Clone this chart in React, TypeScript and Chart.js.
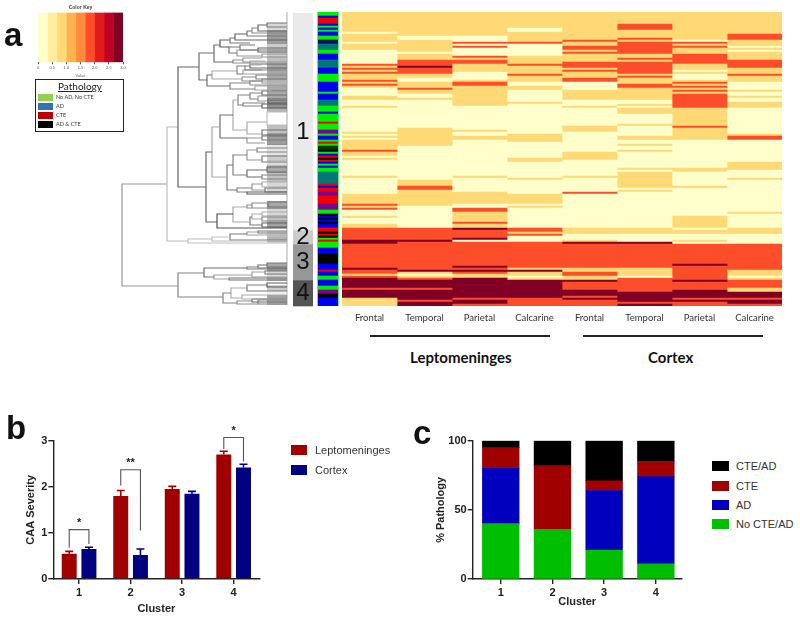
import React, { useEffect, useRef } from "react";
import { Chart, registerables } from "chart.js";

Chart.register(...registerables);

/* ---------- data: heatmap, each column as [first row, severity level] ---------- */
const ROW_COUNT = 147;
const tissues = ["Frontal", "Temporal", "Parietal", "Calcarine", "Frontal", "Temporal", "Parietal", "Calcarine"];
const lepFrontal = [[0,1],[10,0],[11,1],[15,0],[16,1],[19,0],[26,2],[27,1],[28,2],[29,1],[30,2],[31,1],[34,2],[35,1],[36,2],[37,1],[38,0],[42,1],[44,0],[47,1],[48,0],[60,1],[61,0],[62,1],[63,0],[64,1],[69,2],[70,1],[72,0],[73,1],[74,0],[82,1],[83,0],[91,1],[96,2],[97,1],[98,2],[99,0],[102,1],[103,0],[106,1],[108,2],[114,3],[116,2],[128,3],[129,2],[131,1],[132,2],[133,3],[138,2],[139,3],[143,1]];
const lepTemporal = [[0,1],[12,0],[14,1],[20,0],[21,1],[24,2],[27,3],[28,2],[31,1],[33,0],[35,1],[38,2],[39,1],[41,0],[43,1],[44,0],[58,1],[67,0],[84,1],[87,2],[89,1],[97,0],[108,2],[114,3],[115,2],[129,3],[130,1],[131,0],[132,1],[133,2],[134,3],[138,2],[139,3],[144,2],[145,3]];
const lepParietal = [[0,1],[12,0],[15,2],[16,0],[17,2],[18,0],[22,2],[23,1],[24,2],[26,1],[30,0],[34,1],[35,2],[37,1],[47,0],[59,1],[60,0],[62,1],[64,0],[82,1],[83,0],[90,1],[96,0],[98,2],[100,1],[105,2],[106,1],[108,3],[109,2],[113,3],[114,0],[115,2],[127,3],[128,2],[129,3],[130,2],[131,1],[133,3],[143,2],[144,3],[146,2]];
const lepCalcarine = [[0,1],[8,0],[10,1],[15,2],[16,0],[22,1],[26,2],[27,1],[31,2],[32,1],[35,0],[37,1],[39,0],[45,1],[46,0],[61,1],[65,0],[73,1],[75,0],[83,1],[84,0],[91,1],[96,0],[97,1],[98,0],[108,2],[110,1],[111,2],[112,0],[115,2],[128,1],[129,3],[130,1],[132,0],[133,1],[134,3],[143,2]];
const ctxFrontal = [[0,1],[14,2],[15,1],[17,2],[19,1],[20,2],[21,1],[25,2],[28,1],[29,2],[30,1],[33,2],[35,0],[39,1],[44,0],[47,1],[48,0],[57,1],[60,0],[70,1],[74,0],[82,1],[83,0],[90,2],[91,0],[108,1],[111,0],[114,1],[115,3],[116,2],[128,1],[130,2],[132,1],[134,3],[135,2],[139,3],[142,2],[143,3],[144,2]];
const ctxTemporal = [[0,1],[6,2],[9,1],[13,2],[14,1],[15,2],[21,1],[23,2],[24,1],[25,2],[31,1],[32,2],[33,1],[36,2],[38,1],[44,0],[46,1],[47,0],[48,1],[51,0],[56,1],[57,0],[62,1],[64,0],[66,1],[67,0],[69,1],[70,0],[78,1],[79,0],[80,1],[88,0],[89,1],[90,0],[108,1],[111,0],[115,3],[116,2],[128,1],[132,0],[133,2],[140,3],[145,2],[146,3]];
const ctxParietal = [[0,1],[14,0],[15,2],[16,1],[17,2],[18,1],[21,2],[26,1],[29,0],[30,1],[31,0],[34,1],[35,2],[36,1],[37,2],[38,1],[39,2],[40,1],[41,2],[48,1],[57,2],[58,1],[64,0],[78,1],[80,0],[87,1],[88,0],[102,1],[108,0],[109,1],[111,0],[114,1],[115,0],[116,2],[126,3],[127,2],[134,3],[135,2],[139,3],[143,2],[144,3],[145,2]];
const ctxCalcarine = [[0,1],[11,2],[14,1],[17,0],[18,1],[19,0],[20,1],[24,2],[28,1],[31,2],[32,1],[35,0],[39,1],[40,0],[42,1],[43,0],[45,1],[48,0],[61,1],[62,2],[64,0],[75,1],[79,0],[83,1],[84,0],[100,1],[101,0],[108,1],[111,0],[116,2],[129,1],[132,0],[133,1],[134,2],[138,1],[140,3],[143,2],[144,3],[146,2]];
const heatColumns = [lepFrontal, lepTemporal, lepParietal, lepCalcarine, ctxFrontal, ctxTemporal, ctxParietal, ctxCalcarine];

/* pathology strip: [first row, class] */
const pathologyRuns: [number, string][] = [[0,"G"],[2,"B"],[3,"R"],[6,"B"],[7,"G"],[8,"B"],[9,"G"],[10,"B"],[12,"G"],[14,"N"],[16,"T"],[19,"G"],[21,"B"],[24,"T"],[28,"B"],[31,"G"],[35,"B"],[40,"G"],[41,"B"],[44,"T"],[47,"G"],[50,"B"],[51,"G"],[55,"R"],[56,"G"],[59,"P"],[61,"G"],[62,"B"],[64,"G"],[65,"R"],[66,"G"],[67,"D"],[69,"K"],[70,"G"],[71,"B"],[72,"R"],[73,"K"],[74,"R"],[75,"B"],[76,"G"],[77,"B"],[78,"G"],[80,"T"],[86,"R"],[87,"B"],[88,"R"],[90,"P"],[92,"R"],[96,"P"],[99,"G"],[101,"K"],[102,"B"],[103,"K"],[104,"B"],[105,"K"],[106,"B"],[108,"R"],[110,"K"],[111,"R"],[112,"K"],[113,"G"],[114,"R"],[115,"G"],[118,"B"],[121,"K"],[126,"B"],[129,"R"],[130,"B"],[132,"G"],[134,"B"],[137,"G"],[139,"P"],[141,"K"],[143,"B"]];

/* cluster sizes in rows */
const clusterNames = ["1", "2", "3", "4"];
const clusterSizes = [108.5, 7, 18, 13];

/* dendrogram merges: [height, top leaf pos, top child height, bottom leaf pos, bottom child height] */
const merges = [
[20,11,0,15,0],[29,13,20,19,0],[35,16,29,21,0],[40,19,35,24,0],[52,22,40,28,0],[57,26,52,31,37],[67,28,57,35,58],[58,35,47,41,50],[47,33,32,38,0],[50,38,29,44,25],[29,36,0,40,0],[25,42,0,45,0],[73,33,67,50,54],[54,48,44,51,37],[44,46,25,50,0],[37,49,22,53,25],
[80,63,75,74,57],[75,59,50,67,45],[50,54,42,62,44],[42,54,37,58,0],[37,52,0,56,0],[44,58,25,62,0],[45,65,31,69,25],[31,63,0,67,0],[25,67,0,71,0],[57,71,37,77,32],[37,69,0,73,0],[32,74,17,78,17],[17,76,0,80,0],[88,41,73,68,80],[109,55,88,175,81],[120,115,109,229,99],[165,172,120,274,109],[109,261,83,285,64],[81,140,75,210,70],[75,115,67,165,60],[67,103,54,126,40],[54,88,49,118,40],[49,83,37,93,44],[37,81,25,87,29],[25,79,0,83,0],[29,84,19,89,19],[19,87,0,91,0],[44,91,22,94,25],[25,92,0,96,0],[40,110,20,122,25],[20,100,0,113,0],[25,118,0,123,0],[40,126,25,131,22],[25,124,0,128,0],
[60,153,54,178,50],[54,143,40,163,40],[40,138,30,148,25],[30,136,0,140,0],[25,144,0,150,0],[40,158,20,165,25],[20,155,0,160,0],[25,163,0,167,0],[50,176,35,180,40],[35,172,25,178,22],[25,170,0,175,0],[22,176,0,180,0],[40,180,0,182,0],[70,202,54,216,0],[54,195,40,210,37],[40,193,35,196,35],[35,191,19,196,19],[19,190,0,195,0],[37,205,35,213,25],[35,202,25,207,25],[25,200,0,204,0],[25,205,0,209,0],[25,211,0,215,0],[99,227,75,231,0],[75,225,57,229,0],[57,222,40,228,0],[40,220,29,223,0],[29,219,0,221,0],
[83,256,40,265,73],[40,255,29,257,0],[29,253,20,256,0],[20,251,0,255,0],[73,263,35,267,58],[35,260,22,265,0],[22,259,0,262,0],[58,266,0,268,0],[64,281,56,291,50],[56,276,40,286,45],[40,273,20,279,0],[20,271,0,275,0],[45,283,0,287,0],[50,289,35,292,29],[35,287,0,290,0],[29,288,0,292,0],
];
const mergeShades = [120,100,140,120,100,120,90,120,120,150,100,150,110,140,150,170,110,170,130,130,100,160,140,130,150,130,140,170,170,110,100,190,150,130,100,170,110,170,130,130,110,150,100,130,90,170,190,110,150,120,120,130,150,130,120,110,110,130,130,150,170,110,90,80,170,140,140,110,120,170,170,130,100,190,190,120,160,120,110,120,110,120,160,160,120,110,130,170,120,90,170,140,100];
/* leaf bands: [first leaf pos, last leaf pos, leaf height, shade] */
const leafBands = [[11,18,20,190],[18,32,20,90],[32,44,20,170],[44,52,20,150],[52,68,20,110],[68,73,20,190],[73,88,20,110],[88,96,20,70],[96,100,20,130],[113,121,20,150],[121,132,20,90],[132,143,20,210],[143,148,20,170],[148,153,20,200],[153,160,20,110],[160,170,20,150],[170,180,20,190],[189,196,20,110],[196,203,20,190],[203,210,20,150],[210,216,20,100],[219,224,20,190],[224,229,20,130],[229,231,20,190],[251,255,20,110],[255,258,20,100],[258,265,20,190],[265,268,20,140],[273,279,20,170],[279,283,20,230],[283,287,20,100],[287,292,20,130]];

/* colour key */
const keyBinWidths = [1/3, 1/3, 1/3, 1/3, 1/3, 1/3, 1/3, 1/3, 1/3];
const keyTicks = [0, 0.5, 1, 1.5, 2, 2.5, 3];

/* panel b */
const clusters = ["1", "2", "3", "4"];
const leptomeninges = [0.55, 1.8, 1.95, 2.7];
const leptomeningesUpper = [0.6, 1.92, 2.01, 2.77];
const cortex = [0.65, 0.52, 1.85, 2.42];
const cortexUpper = [0.69, 0.65, 1.9, 2.49];
const sigIndex = [0, 1, 3];
const sigTop = [1.07, 2.37, 3.07];
const sigLeftEnd = [0.68, 2.03, 2.82];
const sigRightEnd = [0.76, 1.05, 2.55];
const sigLabels = ["*", "**", "*"];

/* panel c */
const noCteAd = [40, 36, 21, 11];
const ad = [40, 0, 43, 63];
const cte = [15, 46, 7, 11];
const cteAd = [5, 18, 29, 15];
const clusterX = [1, 2, 3, 4];

/* ---------- styles ---------- */
const HEAT = ["#FFFFCC", "#FED976", "#FC4E2A", "#800026"];
const PATH: Record<string, string> = { G: "#00F000", B: "#0000F0", R: "#F40000", K: "#000000", N: "#001060", T: "#007878", P: "#800090", D: "#053805" };
const KEY = ["#FFFFCC", "#FFEDA0", "#FED976", "#FEB24C", "#FD8D3C", "#FC4E2A", "#E31A1C", "#BD0026", "#800026"];
const CLUSTER_COL = ["#EAEAEA", "#CBCBCB", "#989898", "#555555"];
const SANS = "'Liberation Sans', Arial, sans-serif";
const INK = "#222";
const rowLabels = Array.from({ length: ROW_COUNT }, (_, i) => String(i + 1));

function expand<T>(runs: [number, T][] | number[][]): T[] {
  return rowLabels.map((_, r) => {
    let v: any = (runs as any)[0][1];
    for (const run of runs as any[]) if (run[0] <= r) v = run[1];
    return v as T;
  });
}
const fit = (key: "width" | "height", v: number) => (s: any) => { s[key] = v; };
const quiet = { legend: { display: false }, tooltip: { enabled: false } };
const base = { responsive: false, animation: false as const, devicePixelRatio: 1 };

function heatConfig() {
  return {
    type: "bar",
    data: {
      labels: rowLabels,
      datasets: heatColumns.map((col, i) => {
        const levels = expand<number>(col);
        return {
          label: tissues[i],
          data: levels.map(() => 1),
          backgroundColor: levels.map((l) => HEAT[l]),
          borderWidth: 0,
          barPercentage: 1,
          categoryPercentage: 1,
        };
      }),
    },
    options: {
      ...base,
      indexAxis: "y",
      layout: { padding: { left: 0, right: 0, top: 0, bottom: 0 } },
      plugins: quiet,
      scales: {
        y: { stacked: true, display: false },
        x: {
          stacked: true, min: 0, max: 8,
          grid: { display: false, drawTicks: false }, border: { display: false },
          afterBuildTicks: (a: any) => { a.ticks = tissues.map((_, i) => ({ value: i + 0.5 })); },
          afterFit: fit("height", 24),
          ticks: {
            autoSkip: false, maxRotation: 0, padding: 6, color: "#333",
            font: { family: "Lato", size: 9.5 },
            callback: (v: number) => tissues[Math.floor(v)],
          },
        },
      },
    },
  };
}

function stripConfig() {
  const cls = expand<string>(pathologyRuns);
  return {
    type: "bar",
    data: { labels: rowLabels, datasets: [{ data: cls.map(() => 1), backgroundColor: cls.map((c) => PATH[c]), borderWidth: 0, barPercentage: 1, categoryPercentage: 1 }] },
    options: {
      ...base, indexAxis: "y", plugins: quiet,
      layout: { padding: { left: 1, right: 1 } },
      scales: { y: { display: false }, x: { display: false, min: 0, max: 1 } },
    },
  };
}

const clusterLabelPlugin = {
  id: "clusterLabels",
  afterDatasetsDraw(chart: any) {
    const { ctx } = chart;
    ctx.save();
    ctx.fillStyle = "#111";
    ctx.textAlign = "center";
    ctx.textBaseline = "middle";
    ctx.font = `24px ${SANS}`;
    chart.data.datasets.forEach((ds: any, i: number) => {
      const el = chart.getDatasetMeta(i).data[0];
      const mid = i === 0 ? chart.scales.y.getPixelForValue(59.5) : (el.y + el.base) / 2;
      ctx.fillText(ds.label, el.x, mid);
    });
    ctx.restore();
  },
};

function clusterConfig() {
  return {
    type: "bar",
    data: {
      labels: ["Cluster"],
      datasets: clusterSizes.map((v, i) => ({ label: clusterNames[i], data: [v], backgroundColor: CLUSTER_COL[i], borderWidth: 0, barPercentage: 1, categoryPercentage: 1 })),
    },
    plugins: [clusterLabelPlugin],
    options: {
      ...base, plugins: quiet,
      scales: { x: { display: false, stacked: true }, y: { display: false, stacked: true, reverse: true, min: 0, max: ROW_COUNT } },
    },
  };
}

function dendroConfig() {
  const shade = (g: number) => `rgb(${g},${g},${g})`;
  const line = (data: any[], g: number, w = 1.2) => ({ data, borderColor: shade(g), borderWidth: w, showLine: true, pointRadius: 0, spanGaps: false, tension: 0 });
  const datasets: any[] = merges.map((m, i) => line(
    [{ x: m[2], y: m[1] }, { x: m[0], y: m[1] }, { x: m[0], y: m[3] }, { x: m[4], y: m[3] }],
    mergeShades[i] ?? 130,
  ));
  leafBands.forEach((b) => {
    for (let v = b[0]; v < b[1]; v += 2) {
      datasets.push(line([{ x: b[2], y: v + 1 }, { x: 0, y: v + 1 }], b[3], 1.2));
    }
  });
  datasets.push(line([{ x: 0, y: 0 }, { x: 0, y: 293 }], 185, 1.2));
  return {
    type: "scatter",
    data: { datasets },
    options: {
      ...base, plugins: quiet,
      scales: {
        x: { display: false, reverse: true, min: -1, max: 177 },
        y: { display: false, reverse: true, min: 0, max: 294 },
      },
    },
  };
}

function keyConfig() {
  return {
    type: "bar",
    data: {
      labels: ["Value"],
      datasets: keyBinWidths.map((v, i) => ({ data: [v], backgroundColor: KEY[i], borderWidth: 0, barPercentage: 1, categoryPercentage: 1 })),
    },
    options: {
      ...base, indexAxis: "y",
      layout: { padding: { left: 18, right: 17, top: 5, bottom: 0 } },
      plugins: { ...quiet, title: { display: true, text: "Color Key", color: "#444", font: { family: SANS, size: 5, weight: "bold" }, padding: { top: 0, bottom: 1.5 } } },
      scales: {
        y: { stacked: true, display: false },
        x: {
          stacked: true, min: 0, max: 3,
          grid: { drawOnChartArea: false, tickLength: 2, color: "#555" }, border: { display: false },
          afterBuildTicks: (a: any) => { a.ticks = keyTicks.map((value) => ({ value })); },
          afterFit: fit("height", 19.7),
          ticks: { maxRotation: 0, autoSkip: false, padding: 1.5, color: "#555", font: { family: SANS, size: 4 } },
          title: { display: true, text: "Value", color: "#666", font: { family: SANS, size: 4 }, padding: { top: 0, bottom: 4 } },
        },
      },
    },
  };
}

const errorBarPlugin = {
  id: "errorBars",
  afterDatasetsDraw(chart: any) {
    const { ctx } = chart;
    const y = chart.scales.y;
    ctx.save();
    [leptomeningesUpper, cortexUpper].forEach((upper, i) => {
      ctx.strokeStyle = chart.data.datasets[i].backgroundColor;
      ctx.lineWidth = 1.6;
      chart.getDatasetMeta(i).data.forEach((el: any, j: number) => {
        const t = y.getPixelForValue(upper[j]);
        ctx.beginPath();
        ctx.moveTo(el.x, el.y);
        ctx.lineTo(el.x, t);
        ctx.moveTo(el.x - 4, t);
        ctx.lineTo(el.x + 4, t);
        ctx.stroke();
      });
    });
    sigIndex.forEach((c, k) => {
      const a = chart.getDatasetMeta(0).data[c].x;
      const b = chart.getDatasetMeta(1).data[c].x;
      const top = y.getPixelForValue(sigTop[k]);
      ctx.strokeStyle = "#555";
      ctx.lineWidth = 1.1;
      ctx.beginPath();
      ctx.moveTo(a, y.getPixelForValue(sigLeftEnd[k]));
      ctx.lineTo(a, top);
      ctx.lineTo(b, top);
      ctx.lineTo(b, y.getPixelForValue(sigRightEnd[k]));
      ctx.stroke();
      ctx.fillStyle = INK;
      ctx.textAlign = "center";
      ctx.textBaseline = "middle";
      ctx.font = `bold 11px ${SANS}`;
      ctx.fillText(sigLabels[k], (a + b) / 2, top - 7);
    });
    ctx.restore();
  },
};

const tickFont = { family: SANS, size: 11, weight: "bold" };
const titleFont = { family: SANS, size: 11, weight: "bold", lineHeight: 1.2 };
const axisGrid = { drawOnChartArea: false, tickLength: 5, color: INK, lineWidth: 1.4 };
const axisBorder = { color: INK, width: 1.4 };

function severityConfig() {
  return {
    type: "bar",
    data: {
      labels: clusters,
      datasets: [
        { label: "Leptomeninges", data: leptomeninges, backgroundColor: "#A00000", borderWidth: 0, barPercentage: 0.76, categoryPercentage: 0.765 },
        { label: "Cortex", data: cortex, backgroundColor: "#000080", borderWidth: 0, barPercentage: 0.76, categoryPercentage: 0.765 },
      ],
    },
    plugins: [errorBarPlugin],
    options: {
      ...base, plugins: quiet,
      layout: { padding: { top: 20.7, right: 10.6, left: 0, bottom: 0 } },
      scales: {
        x: {
          offset: true,
          grid: { ...axisGrid, offset: false }, border: axisBorder, afterFit: fit("height", 39),
          ticks: { color: INK, font: tickFont, padding: 2, maxRotation: 0 },
          title: { display: true, text: "Cluster", color: INK, font: titleFont, padding: { top: 0, bottom: 2.7 } },
        },
        y: {
          min: 0, max: 3, grid: axisGrid, border: axisBorder, afterFit: fit("width", 53.3),
          ticks: { stepSize: 1, color: INK, font: tickFont, padding: 1 },
          title: { display: true, text: "CAA Severity", color: INK, font: titleFont, padding: { top: 24, bottom: 0 } },
        },
      },
    },
  };
}

function pathologyConfig() {
  const series: [string, number[], string][] = [["No CTE/AD", noCteAd, "#00BE00"], ["AD", ad, "#0000BE"], ["CTE", cte, "#A00000"], ["CTE/AD", cteAd, "#000000"]];
  return {
    type: "bar",
    data: {
      datasets: series.map(([label, vals, color]) => ({
        label, backgroundColor: color, borderWidth: 0, barThickness: 36.7,
        data: vals.map((y, i) => ({ x: clusterX[i], y })),
      })),
    },
    options: {
      ...base, plugins: quiet,
      layout: { padding: { top: 20.7, right: 8.3, left: 0, bottom: 0 } },
      scales: {
        x: {
          type: "linear", stacked: true, min: 0.457, max: 4.5, offset: false,
          grid: { ...axisGrid, offset: false }, border: axisBorder, afterFit: fit("height", 39),
          afterBuildTicks: (a: any) => { a.ticks = clusterX.map((value) => ({ value })); },
          ticks: { color: INK, font: tickFont, padding: 2, maxRotation: 0 },
          title: { display: true, text: "Cluster", color: INK, font: titleFont, padding: { top: 0, bottom: 9.4 } },
        },
        y: {
          stacked: true, min: 0, max: 100, grid: axisGrid, border: axisBorder, afterFit: fit("width", 52.7),
          ticks: { stepSize: 50, color: INK, font: tickFont, padding: 1 },
          title: { display: true, text: "% Pathology", color: INK, font: titleFont, padding: { top: 14, bottom: 0 } },
        },
      },
    },
  };
}

function ChartBox({ left, top, width, height, make, background }: any) {
  const ref = useRef<HTMLCanvasElement>(null);
  useEffect(() => {
    const chart = new Chart(ref.current as any, make());
    return () => chart.destroy();
  }, []);
  return <canvas ref={ref} width={width} height={height} style={{ position: "absolute", left, top, width, height, display: "block", background }} />;
}

function Label({ x, y, children, style }: any) {
  return <div style={{ position: "absolute", left: x, top: y, whiteSpace: "nowrap", lineHeight: 1, fontFamily: SANS, ...style }}>{children}</div>;
}
function Box({ x, y, w, h, color, style }: any) {
  return <div style={{ position: "absolute", left: x, top: y, width: w, height: h, background: color, ...style }} />;
}

const panelStyle = { fontWeight: "bold", fontSize: 33, color: "#111" };
const legendText = { fontSize: 11, color: "#333" };
const pathLegend: [string, string, number][] = [["No AD, No CTE", "#92D050", 94], ["AD", "#2E75B6", 103], ["CTE", "#C00000", 112], ["AD & CTE", "#000000", 121]];
const bLegend: [string, string, number][] = [["Leptomeninges", "#A00000", 445], ["Cortex", "#000080", 465]];
const cLegend: [string, string, number][] = [["CTE/AD", "#000000", 461], ["CTE", "#A00000", 481], ["AD", "#0000BE", 500], ["No CTE/AD", "#00BE00", 519]];

export default function App() {
  return (
    <div style={{ position: "absolute", left: 0, top: 0, width: 800, height: 618, background: "#fff", overflow: "hidden", filter: "blur(0.45px)" }}>
      <ChartBox left={110} top={12} width={178} height={294} make={dendroConfig} />
      <ChartBox left={292.5} top={12.5} width={20.5} height={294} make={clusterConfig} />
      <ChartBox left={317} top={12} width={22} height={294} make={stripConfig} background="#6BEB6B" />
      <ChartBox left={342} top={12} width={440} height={318} make={heatConfig} />
      <ChartBox left={20} top={0} width={120} height={82} make={keyConfig} />
      <ChartBox left={0} top={420} width={270} height={198} make={severityConfig} />
      <ChartBox left={420} top={420} width={270} height={198} make={pathologyConfig} />

      <Label x={4} y={18} style={panelStyle}>a</Label>
      <Label x={6} y={411} style={panelStyle}>b</Label>
      <Label x={413} y={416} style={panelStyle}>c</Label>

      <Box x={35} y={79} w={87} h={51} style={{ border: "1.5px solid #222" }} />
      <Label x={58} y={81} style={{ fontFamily: "Lato", fontSize: 10, color: "#222", textDecoration: "underline" }}>Pathology</Label>
      {pathLegend.map(([t, c, y]) => (
        <React.Fragment key={t}>
          <Box x={38} y={y} w={15} h={6.5} color={c} />
          <Label x={56} y={y + 0.5} style={{ fontFamily: "Lato", fontSize: 5.5, color: "#333" }}>{t}</Label>
        </React.Fragment>
      ))}

      <Box x={370} y={335} w={180} h={2} color="#222" />
      <Box x={583} y={335} w={180} h={2} color="#222" />
      <Label x={410} y={350} style={{ fontFamily: "Lato", fontWeight: "bold", fontSize: 15, color: "#111" }}>Leptomeninges</Label>
      <Label x={648} y={350} style={{ fontFamily: "Lato", fontWeight: "bold", fontSize: 15, color: "#111" }}>Cortex</Label>

      {bLegend.map(([t, c, y]) => (
        <React.Fragment key={t}>
          <Box x={291} y={y} w={16} h={10} color={c} />
          <Label x={315} y={y - 0.5} style={legendText}>{t}</Label>
        </React.Fragment>
      ))}
      {cLegend.map(([t, c, y]) => (
        <React.Fragment key={t}>
          <Box x={712} y={y} w={17} h={10} color={c} />
          <Label x={736} y={y - 0.5} style={legendText}>{t}</Label>
        </React.Fragment>
      ))}
    </div>
  );
}
